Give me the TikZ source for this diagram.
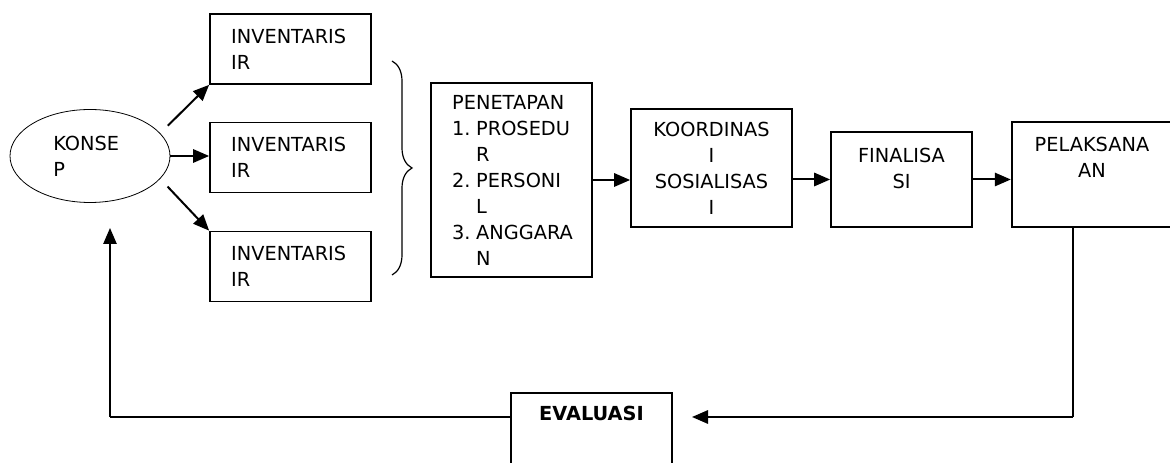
\documentclass[tikz,border=0pt]{standalone}
\usepackage{fontspec}
\setmainfont{DejaVu Sans}
\usepackage{tikz}
\usetikzlibrary{arrows.meta,calc,shapes.geometric,decorations.pathreplacing}
\newcommand{\nomor}[1]{\makebox[18pt][l]{#1}}
\newcommand{\lanjut}{\hspace*{18pt}}

\begin{document}
\begin{tikzpicture}[x=0.75pt,y=0.75pt,
  every node/.style={font=\fontsize{14.5}{19.5}\selectfont},
  kotak/.style={draw,line width=1.3pt,rectangle,minimum width=120.75pt,text width=89pt,inner xsep=15.75pt,inner ysep=0pt},
  panah/.style={line width=1.5pt,-{Triangle[length=12pt,width=10pt]}},
  garis/.style={line width=0.8pt}]
  \useasboundingbox (0,0) rectangle (1170,463);
  % konsep dan inventarisir
  \node[draw,ellipse,line width=0.6pt,minimum width=120pt,minimum height=69.75pt,inner sep=0pt,text width=55pt,align=left] (konsep) at (90,307) {KONSE\\P};
  \foreach \n/\y in {1/414,2/305.5,3/196.5}
    \node[kotak,minimum height=52.5pt,align=left] (inv\n) at (290.5,\y) {INVENTARIS\\IR};
  \draw[panah,shorten <=8pt] (konsep.18) -- (inv1.south west);
  \draw[panah] (konsep.east) -- (konsep.east -| inv2.west);
  \draw[panah,shorten <=8pt] (konsep.-18) -- (inv3.north west);
  \draw[decorate,decoration={brace,amplitude=15pt},line width=0.9pt] (392,402) -- (392,188);
  % alur utama
  \node[kotak,minimum height=145.5pt,align=left] (pen) at (511.5,283)
    {PENETAPAN\\\nomor{1.}PROSEDU\\\lanjut R\\\nomor{2.}PERSONI\\\lanjut L\\\nomor{3.}ANGGARA\\\lanjut N};
  \node[kotak,minimum height=88.5pt,align=center] (koor) at (711.5,295) {KOORDINAS\\I\\SOSIALISAS\\I};
  \node[kotak,minimum width=105.75pt,text width=80pt,inner xsep=12pt,minimum height=71.25pt,align=center] (fin) at (901.5,283.5) {FINALISA\\SI\\[-8pt]\strut};
  \node[kotak,minimum width=120pt,minimum height=78.75pt,align=center] (pel) at (1092,288.5) {PELAKSANA\\AN\\\strut};
  \draw[panah] (pen.east) -- (pen.east -| koor.west);
  \draw[panah] (fin.west -| koor.east) -- (fin.west);
  \draw[panah] (fin.east) -- (fin.east -| pel.west);
  % evaluasi dan umpan balik
  \node[kotak,minimum height=75pt,align=center] (eva) at (591.5,20) {\textbf{EVALUASI}\\\strut\\\strut};
  \coordinate (belok) at (1073,46);
  \coordinate (ujung) at (692,46);
  \coordinate (sudut) at (110,46);
  \coordinate (masuk) at (110,235);
  \draw[garis] (pel.south -| belok) -- (belok);
  \draw[panah] (belok) -- (ujung);
  \draw[garis] (eva.west |- sudut) -- (sudut);
  \draw[panah,line width=1.2pt] (sudut) -- (masuk);
\end{tikzpicture}
\end{document}
